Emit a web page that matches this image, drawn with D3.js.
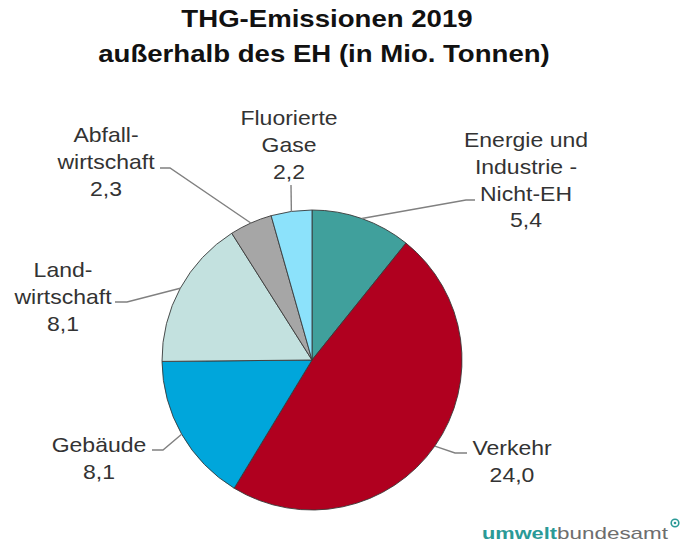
<!DOCTYPE html>
<html>
<head>
<meta charset="utf-8">
<script src="https://cdn.jsdelivr.net/npm/d3@7"></script>
<style>
  html, body { margin: 0; padding: 0; background: #fff; }
  svg { display: block; font-family: "Liberation Sans", Arial, sans-serif; }
</style>
</head>
<body>
<svg id="chart" width="683" height="546"></svg>
<script>
// data, clockwise from 12 o'clock
var categories = ["Energie und Industrie - Nicht-EH", "Verkehr", "Gebäude", "Landwirtschaft", "Abfallwirtschaft", "Fluorierte Gase"];
var values = [5.4, 24.0, 8.1, 8.1, 2.3, 2.2];
var labelLines = [
	["Energie und", "Industrie -", "Nicht-EH"],
	["Verkehr"],
	["Gebäude"],
	["Land-", "wirtschaft"],
	["Abfall-", "wirtschaft"],
	["Fluorierte", "Gase"]
];
var colors = ["#40a09c", "#b0001f", "#00a6db", "#c3e1df", "#a6a6a6", "#8ce2fb"];
var titleLines = ["THG-Emissionen 2019", "außerhalb des EH (in Mio. Tonnen)"];

// label layout: center x, first baseline, leader elbow points
var labelLayout = [
	{ x: 526, y: 147, leader: [[466, 200], [475, 200]] },
	{ x: 512, y: 455, leader: [[455, 453], [467, 453]] },
	{ x: 99, y: 452, leader: [[163, 450], [152, 450]] },
	{ x: 63, y: 277, leader: [[127, 302], [115, 302]] },
	{ x: 106, y: 142, leader: [[170, 168], [160, 168]] },
	{ x: 289, y: 125, leader: [[291, 185]] }
];

var svg = d3.select("#chart");
var cx = 312, cy = 360, radius = 150;
var lineH = 26.8;
var fmt = function(v) { return d3.format(".1f")(v).replace(".", ","); };

// title
svg.selectAll("text.title")
	.data(titleLines)
	.enter()
	.append("text")
	.attr("class", "title")
	.attr("transform", function(d, i) {
		return "translate(" + (i === 0 ? 327 : 324) + "," + (27 + i * 34.5) + ") scale(1.2,1)";
	})
	.attr("text-anchor", "middle")
	.attr("font-size", "23px")
	.attr("font-weight", "bold")
	.attr("fill", "#111")
	.text(function(d) { return d; });

var pie = d3.pie().sort(null).value(function(d) { return d; });
var arcs = pie(values);

var arc = d3.arc().innerRadius(0).outerRadius(radius);
var edgeArc = d3.arc().innerRadius(radius).outerRadius(radius);

var g = svg.append("g").attr("transform", "translate(" + cx + "," + cy + ")");

g.selectAll("path")
	.data(arcs)
	.enter()
	.append("path")
	.attr("d", arc)
	.attr("fill", function(d, i) { return colors[i]; })
	.attr("stroke", "#3a3a3a")
	.attr("stroke-width", 0.9);

// leader lines
svg.selectAll("polyline.leader")
	.data(arcs)
	.enter()
	.append("polyline")
	.attr("class", "leader")
	.attr("fill", "none")
	.attr("stroke", "#808080")
	.attr("stroke-width", 1.4)
	.attr("points", function(d, i) {
		var c = edgeArc.centroid(d);
		var pts = [[cx + c[0], cy + c[1]]].concat(labelLayout[i].leader);
		return pts.map(function(p) { return p.join(","); }).join(" ");
	});

// labels
var labels = svg.selectAll("g.label")
	.data(arcs)
	.enter()
	.append("g")
	.attr("class", "label");

labels.each(function(d, i) {
	var lines = labelLines[i].concat([fmt(d.data)]);
	d3.select(this).selectAll("text")
		.data(lines)
		.enter()
		.append("text")
		.attr("transform", function(t, j) {
			return "translate(" + labelLayout[i].x + "," + (labelLayout[i].y + j * lineH) + ") scale(1.15,1)";
		})
		.attr("text-anchor", "middle")
		.attr("font-size", "20px")
		.attr("fill", "#333")
		.text(function(t) { return t; });
});

// logo
var logo = svg.append("text")
	.attr("x", 482)
	.attr("y", 539)
	.attr("font-size", "17px");
logo.append("tspan")
	.attr("font-weight", "bold")
	.attr("fill", "#2b9a97")
	.attr("textLength", 75)
	.attr("lengthAdjust", "spacingAndGlyphs")
	.text("umwelt");
logo.append("tspan")
	.attr("fill", "#6e6e6e")
	.attr("textLength", 111)
	.attr("lengthAdjust", "spacingAndGlyphs")
	.text("bundesamt");
svg.append("circle")
	.attr("cx", 675).attr("cy", 523).attr("r", 3.8)
	.attr("fill", "none").attr("stroke", "#2b9a97").attr("stroke-width", 1.6);
svg.append("circle")
	.attr("cx", 675).attr("cy", 523).attr("r", 1.3)
	.attr("fill", "#2b9a97");
</script>
</body>
</html>
